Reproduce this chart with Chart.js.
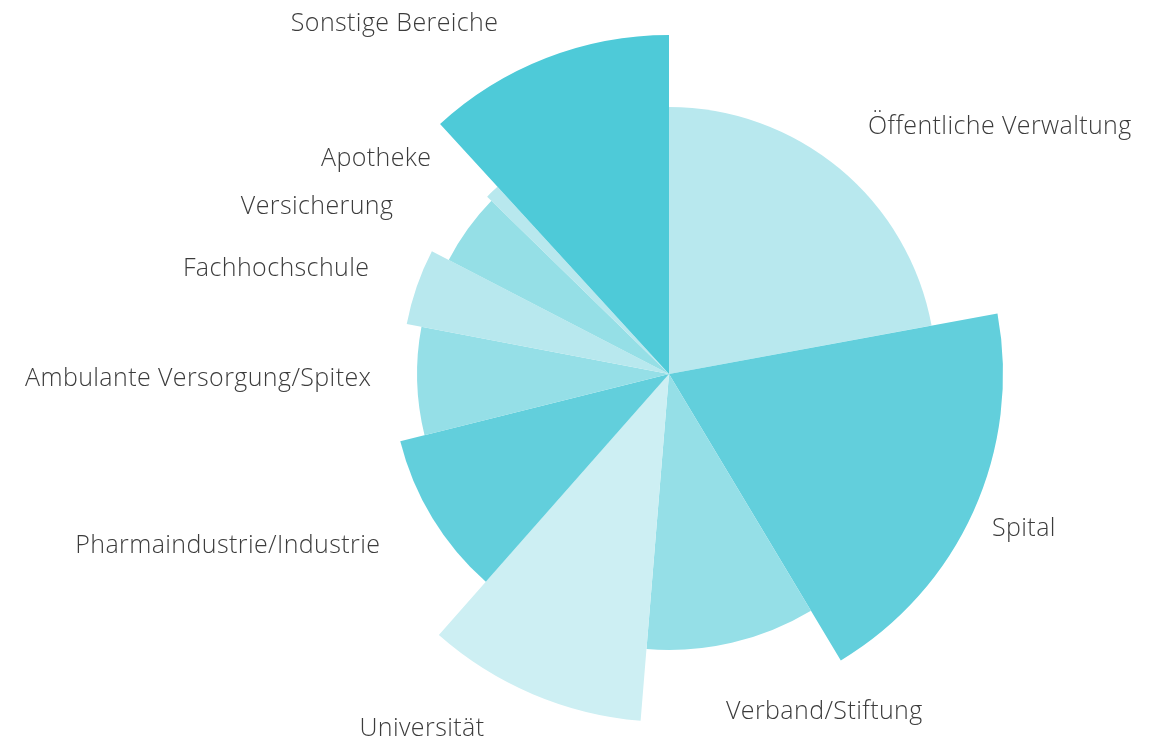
<!DOCTYPE html>
<html>
<head>
<meta charset="utf-8">
<script src="https://cdn.jsdelivr.net/npm/chart.js@4/dist/chart.umd.min.js"></script>
<style>
  html, body { margin: 0; padding: 0; background: #ffffff; }
  #wrap { width: 1153px; height: 740px; position: relative; }
</style>
</head>
<body>
<div id="wrap"><canvas id="c" width="1153" height="740"></canvas></div>
<script>
// Categories (clockwise from 12 o'clock)
const categories = [
  'Öffentliche Verwaltung', 'Spital', 'Verband/Stiftung', 'Universität',
  'Pharmaindustrie/Industrie', 'Ambulante Versorgung/Spitex', 'Fachhochschule',
  'Versicherung', 'Apotheke', 'Sonstige Bereiche'
];
// Share of the circle (percent) -> slice angle
const shares = [22.1, 19.3, 9.9, 10.2, 9.6, 6.9, 4.6, 4.7, 0.9, 11.8];
// Second value -> slice radius (relative)
const sizes = [267, 334, 276, 348, 277, 252, 267, 248, 254, 339];
const colors = ['#b8e8ee', '#62cfdc', '#95dfe7', '#cdeff3', '#62cfdc',
                '#95dfe7', '#b8e8ee', '#95dfe6', '#b8e8ee', '#4ecad8'];

// label placement relative to pie centre: [dx, dy, align]
const labelLayout = [
  [199, -247, 'left'], [323, 155, 'left'], [57, 338, 'left'], [-185, 355, 'right'],
  [-289, 172, 'right'], [-298, 5, 'right'], [-300, -105, 'right'],
  [-276, -167, 'right'], [-238, -215, 'right'], [-171, -350, 'right']
];

const variableRadius = {
  id: 'variableRadius',
  afterDatasetsUpdate(chart) {
    const meta = chart.getDatasetMeta(0);
    const maxSize = Math.max(...sizes);
    meta.data.forEach((arc, i) => {
      const full = arc.outerRadius;
      arc.outerRadius = full * sizes[i] / maxSize;
    });
  }
};

const labelsPlugin = {
  id: 'sliceLabels',
  afterDraw(chart) {
    const ctx = chart.ctx;
    const arc0 = chart.getDatasetMeta(0).data[0];
    const cx = arc0.x, cy = arc0.y;
    const spacing = 0.4;
    ctx.save();
    ctx.font = '300 25px "Open Sans"';
    ctx.fillStyle = '#3c3c3c';
    ctx.textBaseline = 'middle';
    ctx.textAlign = 'left';
    const hasLS = ('letterSpacing' in ctx);
    if (hasLS) ctx.letterSpacing = spacing + 'px';
    categories.forEach((name, i) => {
      const [dx, dy, align] = labelLayout[i];
      let w = ctx.measureText(name).width;
      if (hasLS) w -= spacing;
      const x = align === 'left' ? cx + dx : cx + dx - w;
      ctx.fillText(name, x, cy + dy);
    });
    ctx.restore();
  }
};

new Chart(document.getElementById('c'), {
  type: 'pie',
  data: {
    labels: categories,
    datasets: [{
      data: shares,
      backgroundColor: colors,
      borderWidth: 0,
      borderColor: colors
    }]
  },
  options: {
    responsive: false,
    animation: false,
    layout: { padding: { left: 321, right: 136, top: 26, bottom: 18 } },
    plugins: { legend: { display: false }, tooltip: { enabled: false } }
  },
  plugins: [variableRadius, labelsPlugin]
});
</script>
</body>
</html>
